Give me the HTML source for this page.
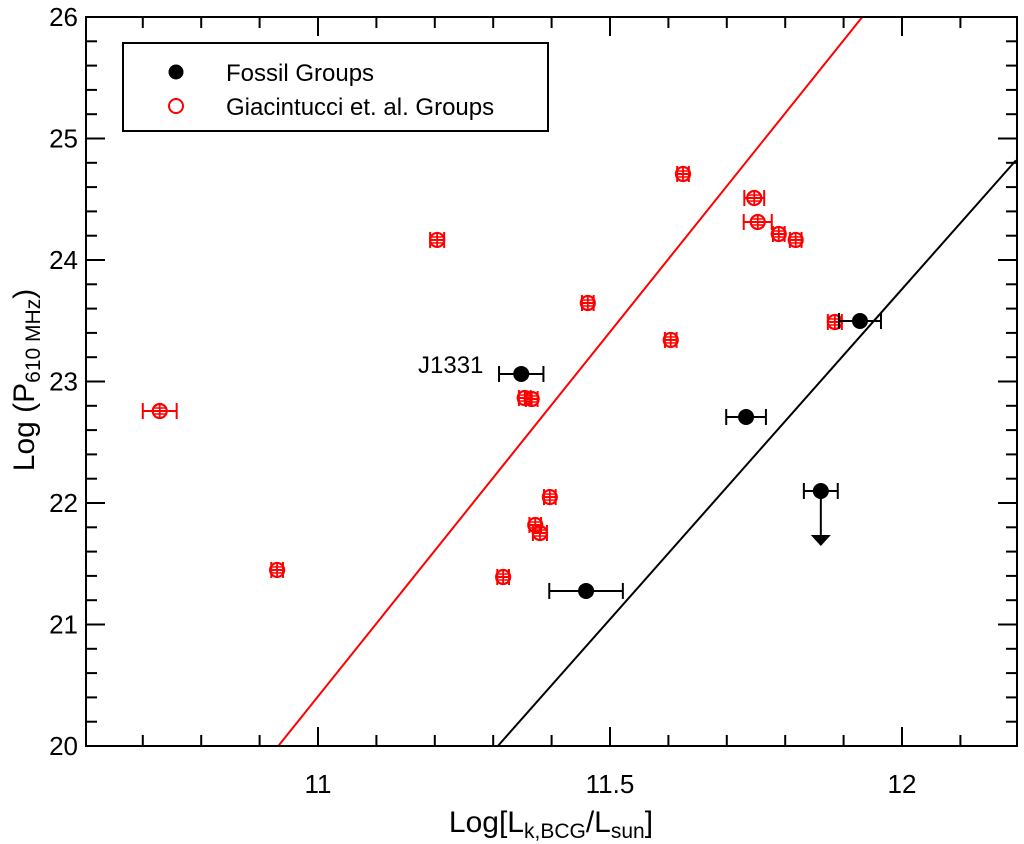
<!DOCTYPE html>
<html><head><meta charset="utf-8"><style>
body{margin:0;background:#fff;}
svg{display:block;font-family:"Liberation Sans",Arial,sans-serif;}
</style></head><body>
<svg id="chart" width="1024" height="844">
<g id="plot"></g>
</svg>
<script>
const redX=[10.729,10.930,11.204,11.317,11.372,11.380,11.397,11.354,11.366,11.462,11.625,11.604,11.747,11.753,11.789,11.818,11.885];
const redY=[22.757,21.449,24.165,21.391,21.819,21.753,22.049,22.864,22.856,23.646,24.708,23.342,24.510,24.313,24.214,24.165,23.490];
const redErr=[0.029,0.01,0.012,0.01,0.01,0.012,0.01,0.01,0.01,0.01,0.01,0.01,0.017,0.024,0.01,0.01,0.012];
const blkX=[11.348,11.459,11.733,11.861,11.928];
const blkY=[23.062,21.276,22.708,22.099,23.498];
const blkErr=[0.038,0.063,0.034,0.029,0.036];
const blkLimit=[false,false,false,true,false];
const xTicks=[11,11.5,12];
const yTicks=[20,21,22,23,24,25,26];
const redLine=[[10.932,20],[11.932,26]];
const blkLine=[[11.308,20],[12.195,24.82]];

const L=86,R=1017,T=17,B=746;
const X=v=>318+(v-11)*584;
const Y=v=>B-(v-20)*121.5;
const svg=document.getElementById('chart');
const NS='http://www.w3.org/2000/svg';
function mk(tag,at,parent){const e=document.createElementNS(NS,tag);for(const k in at)e.setAttribute(k,at[k]);(parent||svg).appendChild(e);return e;}

const defs=mk('defs',{});const cp=mk('clipPath',{id:'clip'},defs);mk('rect',{x:L,y:T,width:R-L,height:B-T},cp);

for(let i=0;i<=16;i++){const v=10.6+i*0.1;const px=X(v);if(px<L||px>R)continue;
 const major=Math.abs(v*2-Math.round(v*2))<1e-6;const len=major?19:11;
 let t=mk('line',{x1:px,x2:px,y1:B,y2:B-len,stroke:'#000','stroke-width':2});
 
 mk('line',{x1:px,x2:px,y1:T,y2:T+len,stroke:'#000','stroke-width':2});}
for(let i=0;i<=30;i++){const v=20+i*0.2;const py=Y(v);const major=i%5===0;const len=major?19:11;
 let t=mk('line',{x1:L,x2:L+len,y1:py,y2:py,stroke:'#000','stroke-width':2});
 
 mk('line',{x1:R,x2:R-len,y1:py,y2:py,stroke:'#000','stroke-width':2});}
xTicks.forEach(v=>{const t=mk('text',{x:X(v),y:B+47,'text-anchor':'middle','font-size':26});t.textContent=String(v);
 });
yTicks.forEach(v=>{const t=mk('text',{x:L-8,y:Y(v)+9,'text-anchor':'end','font-size':26});t.textContent=String(v);
 });

const g=mk('g',{'clip-path':'url(#clip)'});
let rl=mk('line',{x1:X(redLine[0][0]),y1:Y(redLine[0][1]),x2:X(redLine[1][0]),y2:Y(redLine[1][1]),stroke:'#f00','stroke-width':2},g);

let bl=mk('line',{x1:X(blkLine[0][0]),y1:Y(blkLine[0][1]),x2:X(blkLine[1][0]),y2:Y(blkLine[1][1]),stroke:'#000','stroke-width':2},g);


function errbar(x,y,e,col,grp){const x1=X(x-e),x2=X(x+e),py=Y(y);
 mk('line',{x1:x1,x2:x2,y1:py,y2:py,stroke:col,'stroke-width':2},grp);
 mk('line',{x1:x1,x2:x1,y1:py-8,y2:py+8,stroke:col,'stroke-width':2},grp);
 mk('line',{x1:x2,x2:x2,y1:py-8,y2:py+8,stroke:col,'stroke-width':2},grp);}
redX.forEach((x,i)=>{const p=mk('g',{});
 
 errbar(x,redY[i],redErr[i],'#f00',p);
 const cx=X(x),cy=Y(redY[i]);
 mk('line',{x1:cx,x2:cx,y1:cy-8,y2:cy+8,stroke:'#f00','stroke-width':1.8},p);
 mk('line',{x1:cx-6,x2:cx+6,y1:cy-3,y2:cy-3,stroke:'#f00','stroke-width':1.5},p);
 mk('line',{x1:cx-6,x2:cx+6,y1:cy+3,y2:cy+3,stroke:'#f00','stroke-width':1.5},p);
 mk('circle',{cx:cx,cy:cy,r:7,fill:'none',stroke:'#f00','stroke-width':2.2},p);});
blkX.forEach((x,i)=>{const p=mk('g',{});
 
 errbar(x,blkY[i],blkErr[i],'#000',p);
 const cx=X(x),cy=Y(blkY[i]);
 if(blkLimit[i]){mk('line',{x1:cx,x2:cx,y1:cy,y2:cy+44,stroke:'#000','stroke-width':2},p);
  mk('polygon',{points:`${cx-10},${cy+44} ${cx+10},${cy+44} ${cx},${cy+55}`,fill:'#000'},p);}
 mk('circle',{cx:cx,cy:cy,r:8,fill:'#000'},p);});
</script>
<svg style="position:absolute;left:0;top:0" width="1024" height="844">
<rect x="86" y="17" width="931" height="729" fill="none" stroke="#000" stroke-width="2"/>
<text x="418" y="373" font-size="24" font-family="Liberation Sans, sans-serif">J1331</text>
<g>
<rect x="123" y="43" width="425" height="88" fill="#fff" stroke="#000" stroke-width="2"/>
<circle cx="176" cy="72" r="7.5" fill="#000"/>
<text x="226" y="81" font-size="24" font-family="Liberation Sans, sans-serif">Fossil Groups</text>
<circle cx="176" cy="106" r="7" fill="none" stroke="#f00" stroke-width="2"/>
<text x="226" y="115" font-size="24" font-family="Liberation Sans, sans-serif">Giacintucci et. al. Groups</text>
</g>
<text x="551" y="832" text-anchor="middle" font-size="30" font-family="Liberation Sans, sans-serif">Log[L<tspan font-size="21" dy="6">k,BCG</tspan><tspan dy="-6">/L</tspan><tspan font-size="21" dy="6">sun</tspan><tspan dy="-6">]</tspan></text>
<text transform="translate(34,380) rotate(-90)" text-anchor="middle" font-size="30" font-family="Liberation Sans, sans-serif">Log (P<tspan font-size="21" dy="6">610 MHz</tspan><tspan dy="-6">)</tspan></text>
</svg>
</body></html>
